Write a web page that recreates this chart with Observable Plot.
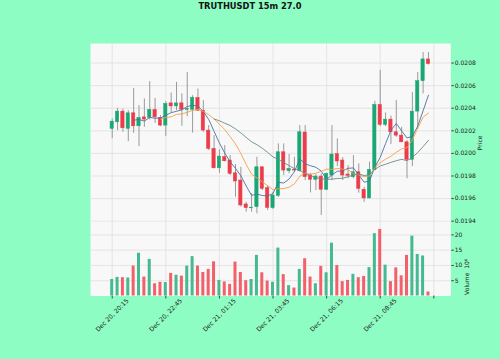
<!DOCTYPE html>
<html>
<head>
<meta charset="utf-8">
<script src="https://cdn.jsdelivr.net/npm/d3@7"></script>
<script src="https://cdn.jsdelivr.net/npm/@observablehq/plot@0.6"></script>
<style>
  html, body { margin: 0; padding: 0; background: #8efdc4; }
  #wrap { position: relative; width: 500px; height: 359px; background: #8efdc4; overflow: hidden; font-family: "DejaVu Sans", sans-serif; }
  #title { position: absolute; left: 0; top: 1px; width: 500px; text-align: center; font-weight: bold; font-size: 8.3px; color: #111; line-height: 11px; }
  .panel { position: absolute; left: 0; }
</style>
</head>
<body>
<div id="wrap">
  <div id="title">TRUTHUSDT 15m 27.0</div>
  <div id="price" class="panel" style="top:0px"></div>
  <div id="volume" class="panel" style="top:221px"></div>
</div>
<script>
// ---- data ----
const opens = [0.020217,0.020275,0.020370,0.020217,0.020355,0.020240,0.020319,0.020314,0.020385,0.020314,
  0.020246,0.020443,0.020416,0.020443,0.020385,0.020385,0.020491,0.020378,0.020202,0.020040,
  0.019868,0.019966,0.019937,0.019824,0.019760,0.019548,0.019514,0.019524,0.019877,0.019692,
  0.019515,0.019623,0.020010,0.019842,0.019856,0.019842,0.020185,0.019807,0.019766,0.019795,
  0.019678,0.019804,0.019994,0.019937,0.019813,0.019789,0.019833,0.019678,0.019601,0.019852,
  0.020429,0.020252,0.020299,0.020187,0.020157,0.020098,0.019943,0.020370,0.020639,0.020832];
const highs = [0.020305,0.020399,0.020393,0.020378,0.020576,0.020423,0.020482,0.020635,0.020487,0.020334,
  0.020458,0.020535,0.020629,0.020526,0.020717,0.020511,0.020570,0.020467,0.020246,0.020157,
  0.020031,0.020069,0.019981,0.019901,0.019877,0.019568,0.019642,0.019966,0.019880,0.019716,
  0.019656,0.020084,0.020084,0.019990,0.019966,0.020246,0.020246,0.019822,0.019813,0.019817,
  0.019824,0.020246,0.020128,0.019963,0.019892,0.019981,0.019907,0.019701,0.019923,0.020461,
  0.020735,0.020358,0.020330,0.020469,0.020231,0.020113,0.020540,0.020717,0.020894,0.020894];
const lows = [0.020131,0.020202,0.020187,0.020104,0.020178,0.020060,0.020231,0.020296,0.020266,0.020237,
  0.020149,0.020358,0.020378,0.020240,0.020325,0.020180,0.020372,0.020187,0.020025,0.019863,
  0.019824,0.019925,0.019804,0.019612,0.019524,0.019480,0.019480,0.019465,0.019671,0.019495,
  0.019503,0.019610,0.019804,0.019819,0.019833,0.019833,0.019760,0.019650,0.019671,0.019450,
  0.019671,0.019760,0.019883,0.019760,0.019775,0.019775,0.019648,0.019566,0.019598,0.019848,
  0.020237,0.020237,0.020078,0.020142,0.020096,0.019775,0.019883,0.020215,0.020526,0.020782];
const closes = [0.020281,0.020370,0.020222,0.020355,0.020240,0.020314,0.020299,0.020385,0.020319,0.020246,
  0.020438,0.020416,0.020443,0.020387,0.020393,0.020491,0.020378,0.020202,0.020040,0.019868,
  0.019972,0.019930,0.019819,0.019751,0.019539,0.019515,0.019519,0.019877,0.019686,0.019517,
  0.019627,0.020010,0.019848,0.019863,0.019848,0.020187,0.019789,0.019766,0.019795,0.019678,
  0.019819,0.019990,0.019928,0.019804,0.019801,0.019833,0.019686,0.019601,0.019854,0.020429,
  0.020252,0.020299,0.020187,0.020157,0.020098,0.019943,0.020370,0.020639,0.020832,0.020791];
const volumes = [5.4,6.1,6.0,5.9,9.8,14.0,6.2,12.0,4.0,4.5,
  4.4,7.4,6.8,6.5,9.8,12.9,9.8,7.7,8.7,11.2,
  5.1,4.6,3.8,11.1,7.7,5.0,5.4,13.3,7.6,4.9,
  4.5,15.7,7.0,3.4,2.6,8.7,12.2,6.2,4.0,9.7,
  7.6,17.3,10.0,4.7,5.1,7.1,6.0,6.4,9.3,20.4,
  21.8,10.1,4.7,9.2,6.6,13.3,19.6,13.6,13.1,1.3];
const tickIndex = [0, 10, 20, 30, 40, 50, 60];
const tickLabels = ["Dec 20, 20:15", "Dec 20, 22:45", "Dec 21, 01:15", "Dec 21, 03:45", "Dec 21, 06:15", "Dec 21, 08:45", ""];
const priceTicks = [0.0194, 0.0196, 0.0198, 0.0200, 0.0202, 0.0204, 0.0206, 0.0208];
const volumeTicks = [5, 10, 15, 20];
const maPeriods = [5, 10, 20];

// ---- build table ----
const candles = closes.map((c, i) => ({i, open: opens[i], high: highs[i], low: lows[i], close: c, volume: volumes[i], up: c >= opens[i]}));
const maRows = [];
maPeriods.forEach(k => {
  closes.forEach((c, i) => {
    if (i >= k - 1) maRows.push({k, i, v: d3.mean(closes.slice(i - k + 1, i + 1))});
  });
});
const labelRows = tickIndex.map((t, j) => ({t, label: tickLabels[j]})).filter(d => d.label);

// ---- style ----
const UP = "#1aa774", DOWN = "#ee3b4a", WICK = "#8e8e8e";
const VUP = "#45b98f", VDOWN = "#f2606a";
const MA_COLORS = {5: "#4a6fa0", 10: "#f0a04b", 20: "#6d8a86"};
const GRID = "#e0e0e0", BG = "#f8f8f8";
const X = {type: "linear", domain: [-4.05, 63.17], axis: null};
const common = {width: 500, marginLeft: 90, marginRight: 49.7,
  style: {fontFamily: "DejaVu Sans", fontSize: "6px", background: "transparent", color: "#222", overflow: "visible"}};
const bw = 0.31;

const price = Plot.plot({
  ...common,
  height: 221, marginTop: 43, marginBottom: 0,
  x: X,
  y: {domain: [0.019397, 0.020973], axis: null},
  marks: [
    Plot.frame({fill: BG, stroke: "none"}),
    Plot.gridX({ticks: tickIndex, stroke: GRID, strokeOpacity: 1, strokeWidth: 0.8}),
    Plot.gridY({ticks: priceTicks, stroke: GRID, strokeOpacity: 1, strokeWidth: 0.8}),
    Plot.axisY({anchor: "right", ticks: priceTicks, tickFormat: d3.format(".4f"), tickSize: 2.5, tickPadding: 1.5, fontSize: 6, label: null, stroke: "#444"}),
    Plot.ruleX(candles, {x: "i", y1: "low", y2: "high", stroke: WICK, strokeWidth: 0.9}),
    Plot.rect(candles.filter(d => d.up), {x1: d => d.i - bw, x2: d => d.i + bw, y1: "open", y2: "close", fill: UP, stroke: UP, strokeWidth: 0.5}),
    Plot.rect(candles.filter(d => !d.up), {x1: d => d.i - bw, x2: d => d.i + bw, y1: "open", y2: "close", fill: DOWN, stroke: DOWN, strokeWidth: 0.5}),
    Plot.line(maRows, {x: "i", y: "v", z: "k", stroke: d => MA_COLORS[d.k], strokeWidth: 0.9}),
    Plot.text(["Price"], {text: d => d, frameAnchor: "right", dx: 29, dy: 3, rotate: -90, fontSize: 6, fill: "#222"})
  ]
});
document.getElementById("price").appendChild(price);

const volume = Plot.plot({
  ...common,
  height: 138, marginTop: 0, marginBottom: 63.5,
  x: X,
  y: {domain: [0, 24.4], axis: null},
  marks: [
    Plot.frame({fill: BG, stroke: "none"}),
    Plot.gridX({ticks: tickIndex, stroke: GRID, strokeOpacity: 1, strokeWidth: 0.8}),
    Plot.gridY({ticks: volumeTicks, stroke: GRID, strokeOpacity: 1, strokeWidth: 0.8}),
    Plot.axisY({anchor: "right", ticks: volumeTicks, tickFormat: d3.format("d"), tickSize: 2.5, tickPadding: 1.5, fontSize: 6, label: null, stroke: "#444"}),
    Plot.axisX({anchor: "bottom", ticks: tickIndex, tickFormat: () => "", tickSize: 3, label: null, stroke: "#444"}),
    Plot.rect(candles.filter(d => d.up), {x1: d => d.i - 0.28, x2: d => d.i + 0.28, y1: 0, y2: "volume", fill: VUP}),
    Plot.rect(candles.filter(d => !d.up), {x1: d => d.i - 0.28, x2: d => d.i + 0.28, y1: 0, y2: "volume", fill: VDOWN}),
    Plot.text(labelRows, {x: "t", text: "label", frameAnchor: "bottom", dy: 19.2, rotate: -45, textAnchor: "middle", lineAnchor: "middle", fontSize: 6.2, fill: "#222"}),
    Plot.text(["Volume  10\u2076"], {text: d => d, frameAnchor: "right", dx: 16.5, rotate: -90, fontSize: 6, fill: "#222"})
  ]
});
document.getElementById("volume").appendChild(volume);
</script>
</body>
</html>
